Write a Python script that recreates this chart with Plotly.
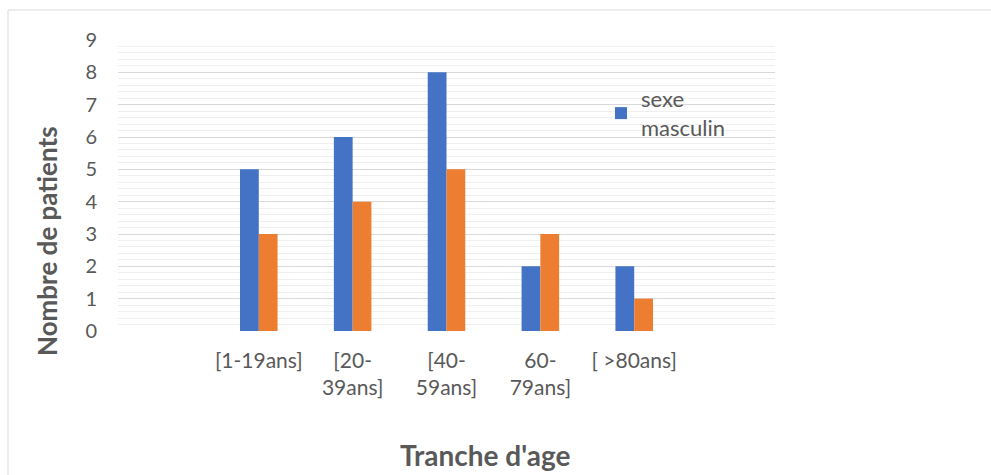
import plotly.graph_objects as go

categories = ["", "[1-19ans]", "[20-<br>39ans]", "[40-<br>59ans]", "60-<br>79ans]", "[ >80ans]", ""]
positions = [0, 1, 2, 3, 4, 5, 6]
bar_pos = [1, 2, 3, 4, 5]
masculin = [5, 6, 8, 2, 2]
feminin = [3, 4, 5, 3, 1]
y_ticks = [0, 1, 2, 3, 4, 5, 6, 7, 8, 9]

FONT = "Lato"
GREY = "#595959"

W, H = 991, 475
L, R, T, B = 118, 216, 40, 144
pw, ph = W - L - R, H - T - B

def px(x):
    return (x - L) / pw

def py(y):
    return (H - B - y) / ph

fig = go.Figure()
fig.add_trace(go.Bar(x=bar_pos, y=masculin, name="sexe<br>masculin",
                     marker=dict(color="#4472C4", line=dict(width=0))))
fig.add_trace(go.Bar(x=bar_pos, y=feminin, name="sexe féminin", showlegend=False,
                     marker=dict(color="#ED7D31", line=dict(width=0))))

fig.update_layout(
    width=W, height=H,
    margin=dict(l=L, r=R, t=T, b=B),
    paper_bgcolor="white", plot_bgcolor="white",
    font=dict(family=FONT, color=GREY, size=20),
    barmode="group", bargap=0.6, bargroupgap=0,
    showlegend=True,
    legend=dict(x=px(601), y=py(78), xanchor="left", yanchor="top",
                font=dict(size=22, color=GREY), bgcolor="rgba(0,0,0,0)",
                tracegroupgap=0),
    xaxis=dict(range=[-0.5, 6.5], tickmode="array", tickvals=positions, ticktext=categories,
               showgrid=False, zeroline=False, showline=False, ticks="",
               tickfont=dict(size=21, color=GREY), ticklabelstandoff=15),
    yaxis=dict(range=[0, 9], tickmode="array", tickvals=y_ticks,
               showgrid=True, gridcolor="#d9d9d9", gridwidth=1.3,
               minor=dict(dtick=0.2, showgrid=True, gridcolor="#efefef", gridwidth=1),
               zeroline=False, showline=False, ticks="",
               tickfont=dict(size=20, color=GREY), ticklabelstandoff=20),
    shapes=[dict(type="rect", xref="paper", yref="paper",
                 x0=px(8), y0=py(490), x1=px(1010), y1=py(10),
                 line=dict(color="#d9d9d9", width=1), fillcolor="rgba(0,0,0,0)", layer="below")],
    annotations=[
        dict(text="<b>Nombre de patients</b>", xref="paper", yref="paper",
             x=px(47), y=py(241), textangle=-90, showarrow=False,
             font=dict(size=26, color=GREY, family=FONT), xanchor="center", yanchor="middle"),
        dict(text="<b>Tranche d'age</b>", xref="paper", yref="paper",
             x=px(485), y=py(455), showarrow=False,
             font=dict(size=28, color=GREY, family=FONT), xanchor="center", yanchor="middle"),
    ],
)

fig.write_html("out.html", config={"displayModeBar": False},
               post_script="document.body.style.margin='0';document.body.style.overflow='hidden';")
